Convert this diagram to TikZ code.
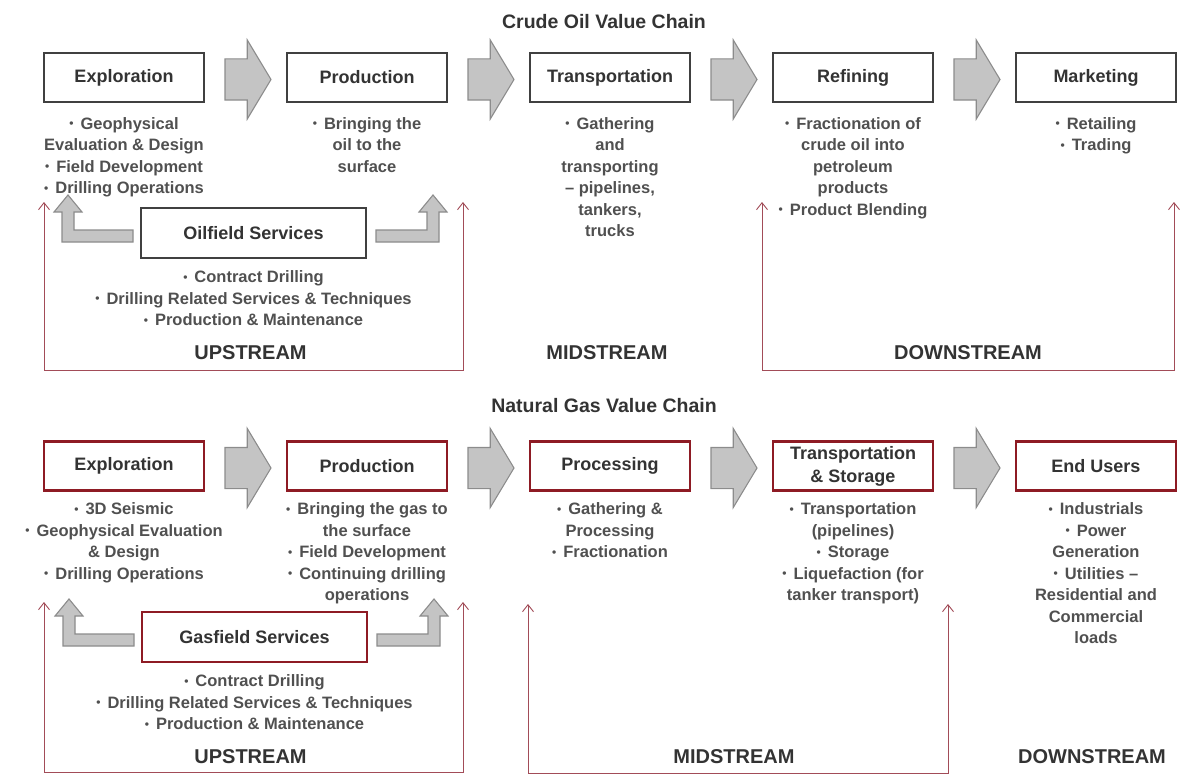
\documentclass[tikz,border=0pt]{standalone}
\usepackage{fontspec}
\setmainfont{Liberation Sans}
\usetikzlibrary{positioning,arrows.meta,shapes.arrows,calc}
\definecolor{boxgrey}{HTML}{404040}
\definecolor{gasred}{HTML}{8E1B24}
\definecolor{chevfill}{HTML}{C4C4C4}
\definecolor{chevline}{HTML}{8C8C8C}
\definecolor{streamred}{HTML}{A24C58}
\definecolor{notegrey}{HTML}{505050}
\definecolor{labelgrey}{HTML}{333333}
\newcommand{\bul}{{\fontsize{12}{12}\selectfont\raisebox{1.2pt}{\textbullet}}\hspace{7pt}}
\tikzset{
  stage/.style={draw=#1, line width=2.6pt, fill=white, minimum width=160pt, minimum height=49pt,
                inner sep=2pt, outer sep=0pt, align=center, font=\fontsize{18}{23}\selectfont\bfseries,
                text=labelgrey},
  stage/.default=boxgrey,
  svc/.style={stage=#1, minimum width=225pt, minimum height=50pt},
  svc/.default=boxgrey,
  note/.style={align=center, inner sep=0pt, font=\fontsize{16.5}{21.5}\selectfont\bfseries, text=notegrey},
  chev/.style={single arrow, draw=chevline, fill=chevfill, line width=1.1pt, single arrow head extend=19pt,
               single arrow tip angle=118, minimum height=46pt, inner xsep=0pt, inner ysep=20pt, outer sep=0pt,
               anchor=west},
  larrow/.style={draw=chevline, fill=chevfill, line width=1.1pt, line join=miter},
  bracket/.style={draw=streamred, line width=0.9pt,
                  {Straight Barb[length=7pt,width=11pt]}-{Straight Barb[length=7pt,width=11pt]}},
  stream/.style={font=\fontsize{20}{24}\selectfont\bfseries, text=labelgrey, inner sep=0pt},
  ctitle/.style={font=\fontsize{19.5}{22}\selectfont\bfseries, text=labelgrey, inner sep=0pt},
}

\begin{document}
\begin{tikzpicture}[x=1pt, y=-1pt]
  \useasboundingbox (0,0) rectangle (1187,776);

  % crude oil chain
  \node[ctitle] (ot) at (604,22) {Crude Oil Value Chain};
  \node[stage] (oe) at (124,77.5) {Exploration};
  \node[stage, right=83pt of oe] (op) {Production};
  \node[stage, right=83pt of op] (otr) {Transportation};
  \node[stage, right=83pt of otr] (orf) {Refining};
  \node[stage, right=83pt of orf] (omk) {Marketing};
  \foreach \a in {oe, op, otr, orf}
    \node[chev] (c-\a) at ($(\a.east)+(21,2)$) {};

  \node[note, below=15pt of oe] (oen) {\bul Geophysical\\Evaluation \& Design\\\bul Field Development\\\bul Drilling Operations};
  \node[note, below=15pt of op] (opn) {\bul Bringing the\\oil to the\\surface};
  \node[note, below=15pt of otr] (otrn) {\bul Gathering\\and\\transporting\\– pipelines,\\tankers,\\trucks};
  \node[note, below=15pt of orf] (orfn) {\bul Fractionation of\\crude oil into\\petroleum\\products\\\bul Product Blending};
  \node[note, below=15pt of omk] (omkn) {\bul Retailing\\\bul Trading};

  \node[svc] (os) at (253.5,233) {Oilfield Services};
  \node[note, below=12.5pt of os] (osn) {\bul Contract Drilling\\\bul Drilling Related Services \& Techniques\\\bul Production \& Maintenance};
  \draw[larrow, shift={(os.west)}] (-8,-3) -- (-67,-3) -- (-67,-21) -- (-59,-21) -- (-73,-38) -- (-87,-21)
    -- (-79,-21) -- (-79,9) -- (-8,9) -- cycle;
  \draw[larrow, shift={(os.east)}] (10,-3) -- (61,-3) -- (61,-21) -- (53,-21) -- (67,-38) -- (81,-21)
    -- (73,-21) -- (73,9) -- (10,9) -- cycle;

  \coordinate (uTL) at (44,202);  \coordinate (uBL) at (44,370);
  \coordinate (uBR) at (463,370); \coordinate (uTR) at (463,202);
  \draw[bracket] (uTL) -- (uBL) -- (uBR) -- (uTR);
  \coordinate (dTL) at (762,202);  \coordinate (dBL) at (762,370);
  \coordinate (dBR) at (1174,370); \coordinate (dTR) at (1174,202);
  \draw[bracket] (dTL) -- (dBL) -- (dBR) -- (dTR);
  \node[stream] (oup) at ($(uBL)!0.5!(uBR)+(-3,-17)$) {UPSTREAM};
  \node[stream] (omid) at (607,353) {MIDSTREAM};
  \node[stream] (odown) at ($(dBL)!0.5!(dBR)+(0,-17)$) {DOWNSTREAM};

  % natural gas chain
  \node[ctitle] (gt) at (604,406) {Natural Gas Value Chain};
  \node[stage=gasred] (ge) at (124,466) {Exploration};
  \node[stage=gasred, right=83pt of ge] (gp) {Production};
  \node[stage=gasred, right=83pt of gp] (gpr) {Processing};
  \node[stage=gasred, right=83pt of gpr] (gts) {Transportation\\\& Storage};
  \node[stage=gasred, right=83pt of gts] (geu) {End Users};
  \foreach \a in {ge, gp, gpr, gts}
    \node[chev] (c-\a) at ($(\a.east)+(21,2)$) {};

  \node[note, below=12pt of ge] (gen) {\bul 3D Seismic\\\bul Geophysical Evaluation\\\& Design\\\bul Drilling Operations};
  \node[note, below=12pt of gp] (gpn) {\bul Bringing the gas to\\the surface\\\bul Field Development\\\bul Continuing drilling\\operations};
  \node[note, below=12pt of gpr] (gprn) {\bul Gathering \&\\Processing\\\bul Fractionation};
  \node[note, below=12pt of gts] (gtsn) {\bul Transportation\\(pipelines)\\\bul Storage\\\bul Liquefaction (for\\tanker transport)};
  \node[note, below=12pt of geu] (geun) {\bul Industrials\\\bul Power\\Generation\\\bul Utilities –\\Residential and\\Commercial\\loads};

  \node[svc=gasred] (gs) at (254.5,637) {Gasfield Services};
  \node[note, below=12.5pt of gs] (gsn) {\bul Contract Drilling\\\bul Drilling Related Services \& Techniques\\\bul Production \& Maintenance};
  \draw[larrow, shift={(gs.west)}] (-8,-3) -- (-67,-3) -- (-67,-21) -- (-59,-21) -- (-73,-38) -- (-87,-21)
    -- (-79,-21) -- (-79,9) -- (-8,9) -- cycle;
  \draw[larrow, shift={(gs.east)}] (10,-3) -- (61,-3) -- (61,-21) -- (53,-21) -- (67,-38) -- (81,-21)
    -- (73,-21) -- (73,9) -- (10,9) -- cycle;

  \coordinate (guTL) at (44,602);  \coordinate (guBL) at (44,772);
  \coordinate (guBR) at (463,772); \coordinate (guTR) at (463,602);
  \draw[bracket] (guTL) -- (guBL) -- (guBR) -- (guTR);
  \coordinate (gmTL) at (528,604);  \coordinate (gmBL) at (528,773);
  \coordinate (gmBR) at (948,773); \coordinate (gmTR) at (948,604);
  \draw[bracket] (gmTL) -- (gmBL) -- (gmBR) -- (gmTR);
  \node[stream] (gup) at ($(guBL)!0.5!(guBR)+(-3,-15)$) {UPSTREAM};
  \node[stream] (gmid) at ($(gmBL)!0.5!(gmBR)+(-4,-16)$) {MIDSTREAM};
  \node[stream] (gdown) at (1092,757) {DOWNSTREAM};
\end{tikzpicture}
\end{document}
